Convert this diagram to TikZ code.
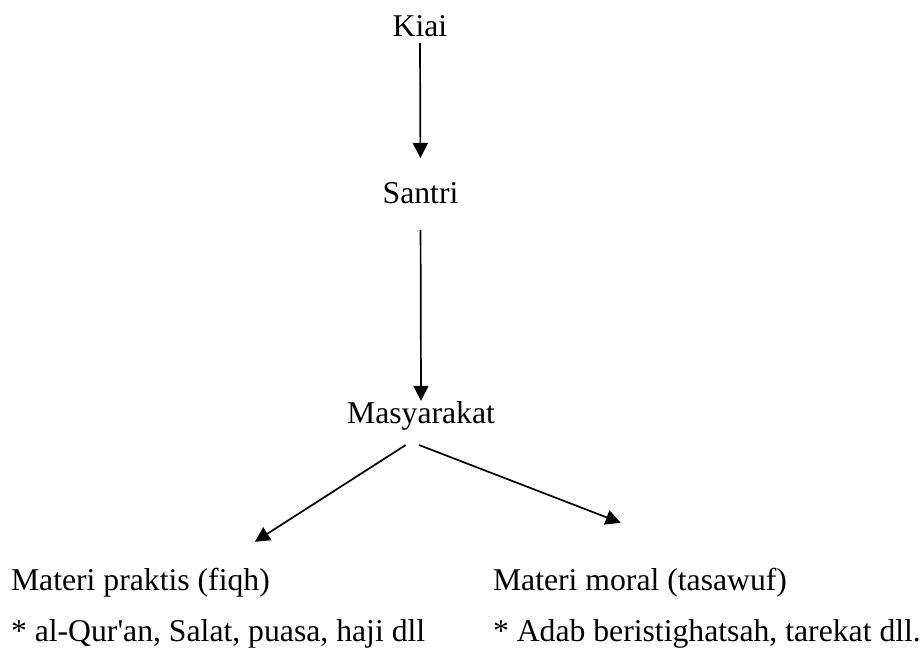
\documentclass[tikz,border=0pt]{standalone}
\usepackage{fontspec}
\setmainfont{Liberation Serif}
\usetikzlibrary{arrows.meta}
\begin{document}
\begin{tikzpicture}[x=0.5pt,y=-0.5pt,
  lbl/.style={inner sep=0pt,outer sep=0pt,font=\fontsize{15.85pt}{19pt}\selectfont,
    text height=11.1pt,text depth=3.5pt},
  arr/.style={line width=0.85pt,-{Triangle[length=7.5pt,width=7.5pt]}}]
\useasboundingbox (0,0) rectangle (924,648);
\node[lbl,anchor=base] (kiai) at (420,36) {Kiai};
\node[lbl,anchor=base] (santri) at (420.5,203) {Santri};
\node[lbl,anchor=base] (masy) at (421,423) {Masyarakat};
\node[lbl,anchor=base west] (prak) at (11,590) {Materi praktis (fiqh)};
\node[lbl,anchor=base west] (prakd) at (11,641) {* al-Qur\textquotesingle an, Salat, puasa, haji dll};
\node[lbl,anchor=base west] (moral) at (493,590) {Materi moral (tasawuf)};
\node[lbl,anchor=base west] (morald) at (493,641) {* Adab beristighatsah, tarekat dll.};
\draw[arr,shorten >=11.4pt] (kiai.south) -- (santri.north);
\draw[arr,shorten <=10pt] (santri.south) -- (masy.north);
\draw[arr] ([xshift=-7.65pt,yshift=-7.5pt]masy.south) -- ([xshift=-7.5pt,yshift=13pt]prak.north east);
\draw[arr] ([xshift=-1pt,yshift=-7.5pt]masy.south) -- ([xshift=63.85pt,yshift=22.5pt]moral.north west);
\end{tikzpicture}
\end{document}
